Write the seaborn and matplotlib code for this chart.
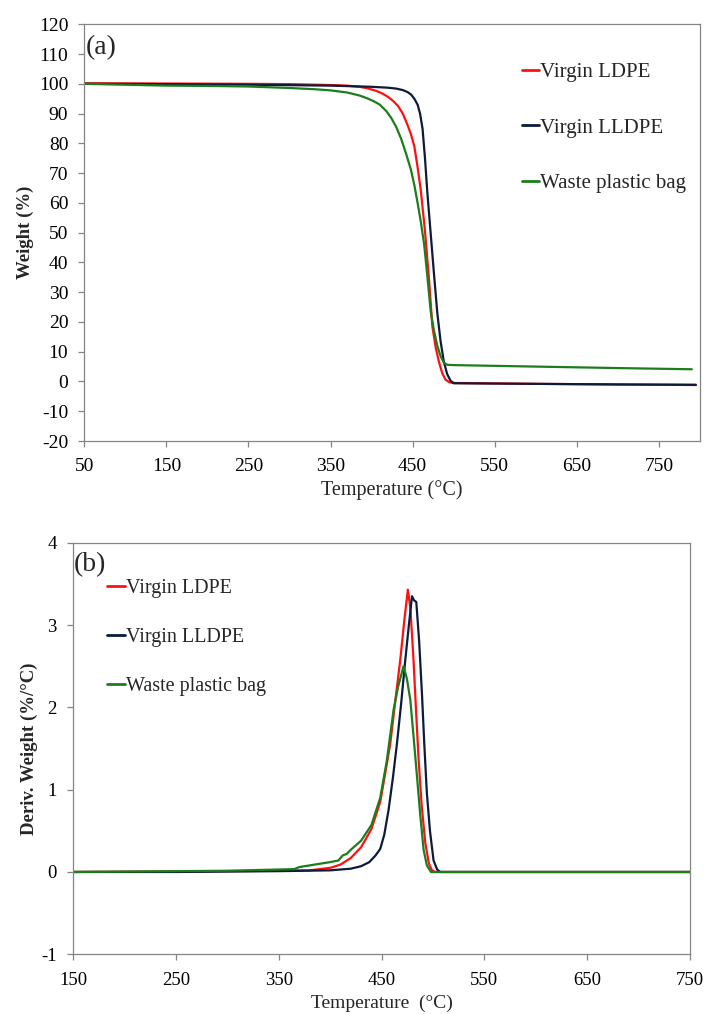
import numpy as np
import pandas as pd
import matplotlib
matplotlib.use("Agg")
import matplotlib.pyplot as plt
import seaborn as sns

# ---------------- data ----------------
samples = ["Virgin LDPE", "Virgin LLDPE", "Waste plastic bag"]
colors = ["#ff1010", "#0c1b3a", "#1b7d1b"]

# (a) TGA weight curves
ldpe_T = [50, 150, 250, 300, 350, 370, 385, 395, 405, 412, 420, 426, 432, 438, 444, 448,
          452, 456, 460, 465, 470, 474, 478, 482, 486, 490, 495, 500, 600, 700, 795]
ldpe_W = [100.2, 100.1, 100.0, 99.9, 99.6, 99.4, 99.0, 98.5, 97.7, 96.9, 95.6, 94.3, 92.6,
          90.0, 86.0, 83.0, 79.0, 72.0, 64.0, 50.5, 34.0, 18.5, 11.5, 6.6, 2.8, 0.6, -0.3,
          -0.5, -0.8, -1.0, -1.2]

lldpe_T = [50, 150, 250, 350, 400, 420, 430, 438, 444, 448, 452, 456, 459, 462, 465, 468,
           472, 476, 480, 484, 488, 492, 496, 500, 600, 700, 795]
lldpe_W = [100.0, 99.9, 99.7, 99.4, 99.0, 98.7, 98.4, 97.9, 97.2, 96.4, 95.0, 93.0, 90.0,
           85.0, 75.0, 63.0, 49.5, 36.0, 23.0, 13.5, 6.6, 2.5, 0.3, -0.6, -0.8, -1.0, -1.1]

bag_T = [50, 100, 150, 200, 250, 300, 330, 350, 370, 385, 395, 403, 410, 418, 424, 430,
         436, 442, 448, 452, 456, 460, 464, 468, 472, 476, 480, 484, 488, 492, 500, 600,
         700, 790]
bag_W = [100.0, 99.7, 99.4, 99.3, 99.1, 98.6, 98.2, 97.8, 97.1, 96.1, 95.1, 94.1, 93.0,
         90.8, 88.5, 85.5, 81.5, 76.5, 71.0, 66.0, 60.0, 53.5, 46.0, 35.0, 23.5, 17.0,
         12.0, 8.5, 6.3, 5.6, 5.5, 5.0, 4.5, 4.1]

# (b) DTG curves
ldpe_Td = [150, 250, 300, 350, 380, 400, 410, 420, 430, 440, 448.6, 453.5, 458.4, 463,
           468.1, 472, 475.5, 478, 481, 483.5, 486, 489, 492.5, 496, 499, 502, 600, 750]
ldpe_D = [0.0, 0.005, 0.01, 0.015, 0.02, 0.05, 0.09, 0.17, 0.30, 0.52, 0.85, 1.2, 1.56,
          2.05, 2.575, 3.05, 3.43, 3.2, 2.575, 1.95, 1.36, 0.8, 0.35, 0.1, 0.02, 0.0, 0.0, 0.0]

lldpe_Td = [150, 250, 350, 400, 420, 430, 438, 444, 448.6, 452.5, 456.7, 461, 464.9, 469,
            473, 476.5, 479.5, 481.5, 483.7, 486.5, 489.2, 491.5, 494, 497, 500.5, 504,
            507, 600, 750]
lldpe_D = [0.0, 0.0, 0.01, 0.02, 0.04, 0.07, 0.12, 0.2, 0.28, 0.45, 0.75, 1.15, 1.56, 2.05,
           2.575, 3.0, 3.35, 3.3, 3.28, 2.8, 2.17, 1.55, 0.955, 0.5, 0.14, 0.03, 0.0, 0.0, 0.0]

bag_Td = [150, 250, 300, 350, 365, 370, 380, 390, 400, 408, 412, 416, 420, 430, 440, 448.6,
          455, 461.6, 466, 471.3, 474.5, 477.9, 481, 484.4, 487.5, 490.8, 494, 498, 600, 750]
bag_D = [0.0, 0.01, 0.015, 0.03, 0.035, 0.06, 0.08, 0.1, 0.12, 0.14, 0.2, 0.22, 0.27, 0.38,
         0.57, 0.9, 1.35, 1.97, 2.25, 2.5, 2.35, 2.09, 1.65, 1.16, 0.7, 0.27, 0.08, 0.0, 0.0, 0.0]

x_ticks_a = [50, 150, 250, 350, 450, 550, 650, 750]
y_ticks_a = list(range(-20, 121, 10))
x_ticks_b = [150, 250, 350, 450, 550, 650, 750]
y_ticks_b = [-1, 0, 1, 2, 3, 4]

tga = pd.concat([
    pd.DataFrame({"T": ldpe_T, "W": ldpe_W, "Sample": samples[0]}),
    pd.DataFrame({"T": lldpe_T, "W": lldpe_W, "Sample": samples[1]}),
    pd.DataFrame({"T": bag_T, "W": bag_W, "Sample": samples[2]}),
], ignore_index=True)
dtg = pd.concat([
    pd.DataFrame({"T": ldpe_Td, "D": ldpe_D, "Sample": samples[0]}),
    pd.DataFrame({"T": lldpe_Td, "D": lldpe_D, "Sample": samples[1]}),
    pd.DataFrame({"T": bag_Td, "D": bag_D, "Sample": samples[2]}),
], ignore_index=True)

# ---------------- style ----------------
sns.set_theme(style="white")
plt.rcParams["font.family"] = ["Liberation Serif", "DejaVu Serif"]
plt.rcParams["axes.unicode_minus"] = False
palette = dict(zip(samples, colors))
spine_col = "#858585"

fig = plt.figure(figsize=(7.06, 10.14), dpi=100)
W_, H_ = 706, 1014
def rect(l, t, r, b):
    return [l / W_, 1 - b / H_, (r - l) / W_, (b - t) / H_]

ax1 = fig.add_axes(rect(84.3, 24.3, 700, 441))
ax2 = fig.add_axes(rect(73.3, 542.7, 690, 954.3))

def style_axes(ax, fs, ypad, xpad):
    for s in ax.spines.values():
        s.set_color(spine_col)
        s.set_linewidth(0.9)
        s.set_visible(True)
    ax.tick_params(axis="both", which="major", direction="out", length=4,
                   width=0.9, color=spine_col, labelsize=fs, labelcolor="black",
                   left=True, bottom=True, top=False, right=False)
    ax.tick_params(axis="y", pad=ypad)
    ax.tick_params(axis="x", pad=xpad)
    ax.grid(False)
    ax.set_facecolor("white")

# ---- panel (a)
sns.lineplot(data=tga, x="T", y="W", hue="Sample", hue_order=samples,
             palette=palette, sort=False, estimator=None, linewidth=1.6, ax=ax1)
ax1.set_xlim(50, 800)
ax1.set_ylim(-20, 120)
ax1.set_xticks(x_ticks_a)
ax1.set_yticks(y_ticks_a)
style_axes(ax1, 14, 7.5, 8.5)
ax1.set_xlabel("Temperature (°C)", fontsize=14.5, va="center")
ax1.xaxis.set_label_coords(0.5, -0.1176)
ax1.set_ylabel("Weight (%)", fontsize=13.5, fontweight="bold", va="center")
ax1.yaxis.set_label_coords(-0.0963, 0.5)
ax1.text(0.003, 0.943, "(a)", transform=ax1.transAxes, fontsize=20,
         ha="left", va="center")
h, l = ax1.get_legend_handles_labels()
for hh in h:
    hh.set_linewidth(2.0)
ax1.legend(h, l, loc="upper left", bbox_to_anchor=(0.7104, 0.908), frameon=False,
           fontsize=15, handlelength=0.85, handletextpad=0.05, labelspacing=1.72,
           borderpad=0, borderaxespad=0)

# ---- panel (b)
sns.lineplot(data=dtg, x="T", y="D", hue="Sample", hue_order=samples,
             palette=palette, sort=False, estimator=None, linewidth=1.6, ax=ax2)
ax2.set_xlim(150, 750)
ax2.set_ylim(-1, 4)
ax2.set_xticks(x_ticks_b)
ax2.set_yticks(y_ticks_b)
style_axes(ax2, 13.5, 8, 9)
ax2.set_xlabel("Temperature  (°C)", fontsize=14, va="center")
ax2.xaxis.set_label_coords(0.5, -0.118)
ax2.set_ylabel("Deriv. Weight (%/°C)", fontsize=13.5, fontweight="bold", va="center")
ax2.yaxis.set_label_coords(-0.0718, 0.5)
ax2.text(0.0, 0.946, "(b)", transform=ax2.transAxes, fontsize=20,
         ha="left", va="center")
h, l = ax2.get_legend_handles_labels()
for hh in h:
    hh.set_linewidth(2.0)
ax2.legend(h, l, loc="upper left", bbox_to_anchor=(0.054, 0.911), frameon=False,
           fontsize=14.5, handlelength=0.9, handletextpad=0.05, labelspacing=1.47,
           borderpad=0, borderaxespad=0)

fig.savefig("out.png", dpi=100, facecolor="white")
